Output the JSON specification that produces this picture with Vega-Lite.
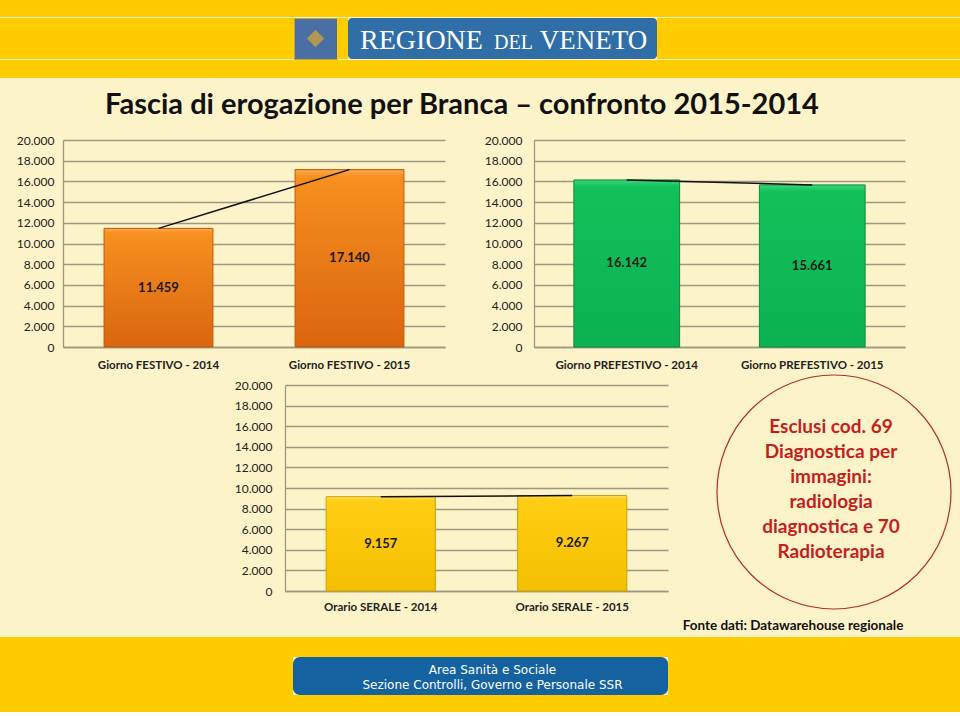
{
  "$schema": "https://vega.github.io/schema/vega-lite/v6.json",
  "padding": 0,
  "background": "#FDF3C9",
  "spacing": 0,
  "data": {"values": [{}]},
  "config": {
    "view": {"stroke": null},
    "font": "Lato",
    "locale": {"number": {"decimal": ",", "thousands": ".", "grouping": [3], "currency": ["€", ""]}},
    "axis": {"labelFont": "Lato", "labelColor": "#222222", "ticks": false, "domainColor": "#9C9884", "domainWidth": 1.3, "gridColor": "#9C9884", "gridWidth": 1.3},
    "axisX": {"grid": false, "labelFontWeight": "bold", "labelFontSize": 11.5, "labelAngle": 0, "labelLimit": 0},
    "axisY": {"grid": true, "labelFontSize": 12}
  },
  "vconcat": [
    {"width": 960, "height": 17, "mark": {"type": "point", "opacity": 0, "size": 0}, "view": {"fill": "#FFCC00"}},
    {
      "spacing": 0, "bounds": "flush",
      "hconcat": [
        {"width": 294, "height": 41, "mark": {"type": "point", "opacity": 0, "size": 0}, "view": {"fill": "#FFCC00"}},
        {"width": 43, "height": 41, "view": {"fill": "#4A6FA5", "stroke": "#C9A23A", "strokeWidth": 1},
         "mark": {"type": "point", "shape": "diamond", "filled": true, "color": "#D9A92E", "size": 300}},
        {"width": 11, "height": 41, "mark": {"type": "point", "opacity": 0, "size": 0}, "view": {"fill": "#FFCC00"}},
        {"width": 309, "height": 41, "view": {"fill": "#2F6EA6", "cornerRadius": 4},
         "layer": [
           {"mark": {"type": "text", "text": "REGIONE", "font": "Liberation Serif", "fontSize": 28, "letterSpacing": 1, "color": "white", "align": "center", "baseline": "alphabetic", "dx": -81, "dy": 10}},
           {"mark": {"type": "text", "text": "DEL", "font": "Liberation Serif", "fontSize": 20, "letterSpacing": 1, "color": "white", "align": "center", "baseline": "alphabetic", "dx": 11, "dy": 10}},
           {"mark": {"type": "text", "text": "VENETO", "font": "Liberation Serif", "fontSize": 27, "letterSpacing": 1, "color": "white", "align": "center", "baseline": "alphabetic", "dx": 91, "dy": 10}}
         ]},
        {"width": 303, "height": 41, "mark": {"type": "point", "opacity": 0, "size": 0}, "view": {"fill": "#FFCC00"}}
      ]
    },
    {"width": 960, "height": 18, "mark": {"type": "point", "opacity": 0, "size": 0}, "view": {"fill": "#FFCC00"}},
    {
      "spacing": 0, "bounds": "flush",
      "hconcat": [
        {"width": 107, "height": 56, "mark": {"type": "point", "opacity": 0, "size": 0}},
        {"width": 710, "height": 56,
         "mark": {"type": "text", "text": "Fascia di erogazione per Branca – confronto 2015-2014", "font": "Lato", "fontWeight": "bold", "fontSize": 29, "color": "#111111", "align": "center", "baseline": "middle", "dy": -1}},
        {"width": 143, "height": 56, "mark": {"type": "point", "opacity": 0, "size": 0}}
      ]
    },
    {
      "spacing": 0, "bounds": "flush",
      "hconcat": [
        {"width": 63, "height": 232, "mark": {"type": "point", "opacity": 0, "size": 0}},
        {
          "width": 382, "height": 207,
          "data": {"values": [
            {"fascia": "Giorno FESTIVO - 2014", "prestazioni": 11459},
            {"fascia": "Giorno FESTIVO - 2015", "prestazioni": 17140}
          ]},
          "encoding": {
            "x": {"field": "fascia", "type": "nominal", "sort": null, "title": null,
                  "scale": {"paddingInner": 0, "paddingOuter": 0},
                  "axis": {"labelPadding": 12}}
          },
          "layer": [
            {"mark": {"type": "bar", "width": {"band": 0.57},
                      "fill": {"gradient": "linear", "x1": 0, "y1": 0, "x2": 0, "y2": 1,
                               "stops": [{"offset": 0, "color": "#FBAA4E"}, {"offset": 0.04, "color": "#F7901F"}, {"offset": 1, "color": "#DA6510"}]},
                      "stroke": "#C0580A", "strokeWidth": 1},
             "encoding": {"y": {"field": "prestazioni", "type": "quantitative", "title": null,
                                "scale": {"domain": [0, 20000]},
                                "axis": {"values": [0, 2000, 4000, 6000, 8000, 10000, 12000, 14000, 16000, 18000, 20000], "format": ",.0f", "labelPadding": 9}}}},
            {"mark": {"type": "line", "color": "#111111", "strokeWidth": 1.5},
             "encoding": {"y": {"field": "prestazioni", "type": "quantitative", "scale": {"domain": [0, 20000]}, "axis": null}}},
            {"mark": {"type": "text", "fontWeight": "bold", "fontSize": 13, "color": "#1a1a1a", "font": "Lato"},
             "encoding": {"y": {"field": "prestazioni", "type": "quantitative", "scale": {"domain": [0, 40000]}, "axis": null},
                          "text": {"field": "prestazioni", "type": "quantitative", "format": ",.0f"}}}
          ],
          "resolve": {"scale": {"y": "independent"}}
        },
        {"width": 89, "height": 232, "mark": {"type": "point", "opacity": 0, "size": 0}},
        {
          "width": 371, "height": 207,
          "data": {"values": [
            {"fascia": "Giorno PREFESTIVO - 2014", "prestazioni": 16142},
            {"fascia": "Giorno PREFESTIVO - 2015", "prestazioni": 15661}
          ]},
          "encoding": {
            "x": {"field": "fascia", "type": "nominal", "sort": null, "title": null,
                  "scale": {"paddingInner": 0, "paddingOuter": 0},
                  "axis": {"labelPadding": 12}}
          },
          "layer": [
            {"mark": {"type": "bar", "width": {"band": 0.57},
                      "fill": {"gradient": "linear", "x1": 0, "y1": 0, "x2": 0, "y2": 1,
                               "stops": [{"offset": 0, "color": "#3CD67C"}, {"offset": 0.04, "color": "#12C15A"}, {"offset": 1, "color": "#0CB152"}]},
                      "stroke": "#0A8A3E", "strokeWidth": 1},
             "encoding": {"y": {"field": "prestazioni", "type": "quantitative", "title": null,
                                "scale": {"domain": [0, 20000]},
                                "axis": {"values": [0, 2000, 4000, 6000, 8000, 10000, 12000, 14000, 16000, 18000, 20000], "format": ",.0f", "labelPadding": 12}}}},
            {"mark": {"type": "line", "color": "#111111", "strokeWidth": 1.5},
             "encoding": {"y": {"field": "prestazioni", "type": "quantitative", "scale": {"domain": [0, 20000]}, "axis": null}}},
            {"mark": {"type": "text", "fontWeight": "bold", "fontSize": 13, "color": "#1a1a1a", "font": "Lato"},
             "encoding": {"y": {"field": "prestazioni", "type": "quantitative", "scale": {"domain": [0, 40000]}, "axis": null},
                          "text": {"field": "prestazioni", "type": "quantitative", "format": ",.0f"}}}
          ],
          "resolve": {"scale": {"y": "independent"}}
        },
        {"width": 55, "height": 232, "mark": {"type": "point", "opacity": 0, "size": 0}}
      ]
    },
    {
      "spacing": 0, "bounds": "flush",
      "hconcat": [
        {"width": 285, "height": 230, "mark": {"type": "point", "opacity": 0, "size": 0}},
        {
          "width": 383, "height": 206,
          "data": {"values": [
            {"fascia": "Orario SERALE - 2014", "prestazioni": 9157},
            {"fascia": "Orario SERALE - 2015", "prestazioni": 9267}
          ]},
          "encoding": {
            "x": {"field": "fascia", "type": "nominal", "sort": null, "title": null,
                  "scale": {"paddingInner": 0, "paddingOuter": 0},
                  "axis": {"labelPadding": 10}}
          },
          "layer": [
            {"mark": {"type": "bar", "width": {"band": 0.57},
                      "fill": {"gradient": "linear", "x1": 0, "y1": 0, "x2": 0, "y2": 1,
                               "stops": [{"offset": 0, "color": "#FFE066"}, {"offset": 0.04, "color": "#FFCE14"}, {"offset": 1, "color": "#F5BF00"}]},
                      "stroke": "#C9A000", "strokeWidth": 1},
             "encoding": {"y": {"field": "prestazioni", "type": "quantitative", "title": null,
                                "scale": {"domain": [0, 20000]},
                                "axis": {"values": [0, 2000, 4000, 6000, 8000, 10000, 12000, 14000, 16000, 18000, 20000], "format": ",.0f", "labelPadding": 13}}}},
            {"mark": {"type": "line", "color": "#111111", "strokeWidth": 1.5},
             "encoding": {"y": {"field": "prestazioni", "type": "quantitative", "scale": {"domain": [0, 20000]}, "axis": null}}},
            {"mark": {"type": "text", "fontWeight": "bold", "fontSize": 13, "color": "#1a1a1a", "font": "Lato"},
             "encoding": {"y": {"field": "prestazioni", "type": "quantitative", "scale": {"domain": [0, 40000]}, "axis": null},
                          "text": {"field": "prestazioni", "type": "quantitative", "format": ",.0f"}}}
          ],
          "resolve": {"scale": {"y": "independent"}}
        },
        {"width": 49, "height": 230, "mark": {"type": "point", "opacity": 0, "size": 0}},
        {"width": 234, "height": 214,
         "layer": [
           {"mark": {"type": "point", "shape": "circle", "size": 54756, "filled": false, "stroke": "#B0302A", "strokeWidth": 1.2, "opacity": 1}},
           {"mark": {"type": "text", "text": ["Esclusi cod. 69", "Diagnostica per", "immagini:", "radiologia", "diagnostica e 70", "Radioterapia"],
                     "font": "Lato", "fontWeight": "bold", "fontSize": 19, "lineHeight": 25, "color": "#C41E1E", "align": "center", "baseline": "middle", "dx": -3, "dy": -65}}
         ]},
        {"width": 9, "height": 230, "mark": {"type": "point", "opacity": 0, "size": 0}}
      ]
    },
    {
      "spacing": 0, "bounds": "flush",
      "hconcat": [
        {"width": 668, "height": 22, "mark": {"type": "point", "opacity": 0, "size": 0}},
        {"width": 250, "height": 22,
         "mark": {"type": "text", "text": "Fonte dati: Datawarehouse regionale", "font": "Lato", "fontWeight": "bold", "fontSize": 13.5, "color": "#111111", "align": "center", "baseline": "middle"}},
        {"width": 42, "height": 22, "mark": {"type": "point", "opacity": 0, "size": 0}}
      ]
    },
    {"width": 960, "height": 20, "mark": {"type": "point", "opacity": 0, "size": 0}, "view": {"fill": "#FFCC00"}},
    {
      "spacing": 0, "bounds": "flush",
      "hconcat": [
        {"width": 293, "height": 38, "mark": {"type": "point", "opacity": 0, "size": 0}, "view": {"fill": "#FFCC00"}},
        {"width": 375, "height": 38, "view": {"fill": "#14629F", "cornerRadius": 7},
         "mark": {"type": "text", "text": ["Area Sanità e Sociale", "Sezione Controlli, Governo e Personale SSR"], "font": "DejaVu Sans", "fontSize": 12, "lineHeight": 15, "color": "white", "align": "center", "baseline": "middle", "dx": 12, "dy": -6}},
        {"width": 292, "height": 38, "mark": {"type": "point", "opacity": 0, "size": 0}, "view": {"fill": "#FFCC00"}}
      ]
    },
    {"width": 960, "height": 17, "mark": {"type": "point", "opacity": 0, "size": 0}, "view": {"fill": "#FFCC00"}}
  ]
}
